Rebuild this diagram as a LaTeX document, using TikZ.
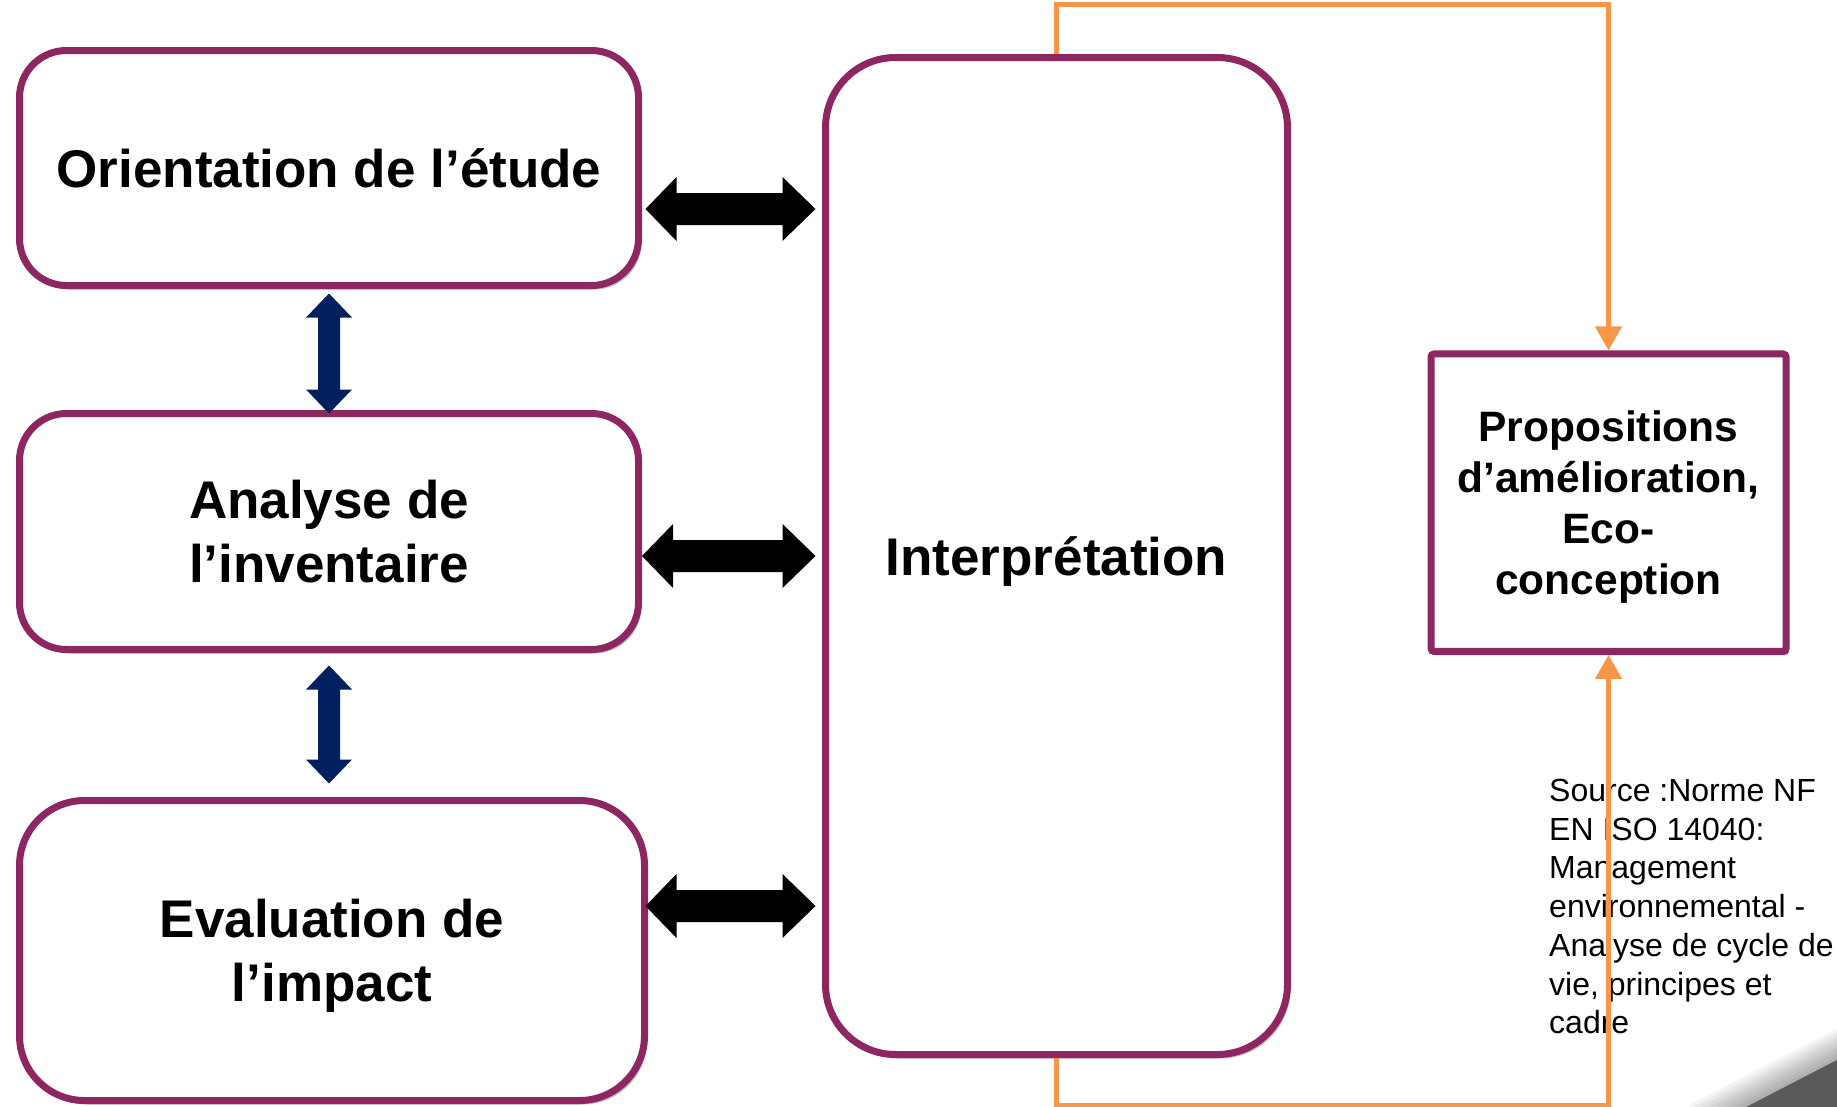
\documentclass[tikz,border=0pt]{standalone}
\usepackage{fontspec}
\setmainfont{Liberation Sans}
\usetikzlibrary{arrows.meta,calc,shadows}
\definecolor{boxpurple}{RGB}{142,38,98}
\definecolor{linkorange}{RGB}{247,150,70}
\definecolor{navyarrow}{RGB}{0,32,96}
\definecolor{cornergray}{RGB}{90,90,90}
\newcommand\hdblarrow[2]{%
  \fill[black] (#1) -- ++(31,-32) -- ++(0,16) -- ($(#2)+(-33,-16)$) -- ++(0,-16) -- (#2)
    -- ++(-33,32) -- ++(0,-16) -- ($(#1)+(31,16)$) -- ++(0,16) -- cycle;}
\newcommand\vdblarrow[2]{%
  \fill[navyarrow] (#1) -- ++(23,24) -- ++(-12,0) -- ($(#2)+(11,-24)$) -- ++(12,0) -- (#2)
    -- ++(-23,-24) -- ++(12,0) -- ($(#1)+(-11,24)$) -- ++(-12,0) -- cycle;}
\begin{document}
\begin{tikzpicture}[x=1pt,y=-1pt,
  stagebox/.style={draw=boxpurple, line width=7pt, fill=white, rounded corners=#1,
    inner sep=0pt, align=center, font=\bfseries\fontsize{53}{64}\selectfont,
    drop shadow={shadow xshift=3pt, shadow yshift=-4pt, opacity=0.25, fill=black}},
  orangelink/.style={draw=linkorange, line width=4.5pt, -{Triangle[width=26pt,length=24pt]}},
  sourcetext/.style={anchor=north west, inner sep=0pt, align=left,
    font=\fontsize{32}{38.7}\selectfont}
]
\useasboundingbox (0,0) rectangle (1837,1106);
\fill[white] (0,0) rectangle (1837,1106);
\begin{scope}
  \clip (0,0) rectangle (1837,1106);
  \foreach \k in {8,7,...,1}
    \fill[black, opacity=0.045]
      ($(1703.5,1129)+(-0.46*\k*3.5,-0.89*\k*3.5)$) -- ($(1881.5,1037)+(-0.46*\k*3.5,-0.89*\k*3.5)$)
      -- (1900,1200) -- (1650,1200) -- cycle;
  \fill[cornergray] (1703.5,1129) -- (1881.5,1037) -- (1900,1200) -- (1650,1200) -- cycle;
\end{scope}

\node[stagebox=47pt, minimum width=619pt, minimum height=235pt] (orient) at (329,168)
  {Orientation de l’étude};
\node[stagebox=47pt, minimum width=619pt, minimum height=236pt] (analyse) at (329,531.5)
  {Analyse de\\l’inventaire};
\node[stagebox=65pt, minimum width=625pt, minimum height=300pt, text depth=0pt] (evalimp) at (332,950.5)
  {Evaluation de\\l’impact};
\node[stagebox=70pt, minimum width=462pt, minimum height=997pt, text depth=0pt] (interp) at (1056.5,556)
  {Interprétation};
\node[stagebox=3pt, minimum width=355pt, minimum height=297.5pt, text depth=0pt,
  font=\bfseries\fontsize{42.5}{51}\selectfont] (props) at (1608.5,502.7)
  {Propositions\\d’amélioration,\\Eco-\\conception};

\node[sourcetext] (src) at (1549,779)
  {Source :Norme NF\\EN ISO 14040:\\Management\\environnemental -\\Analyse de cycle de\\vie, principes et\\cadre};

% horizontal double arrows
\coordinate (h1a) at ($(orient.east)+(3.5,41)$);
\coordinate (h1b) at ($(interp.west |- h1a)+(-6.5,0)$);
\coordinate (h2a) at ($(analyse.east)+(0,24.5)$);
\coordinate (h2b) at ($(interp.west |- h2a)+(-6.5,0)$);
\coordinate (h3a) at ($(evalimp.east)+(-2.5,-44.5)$);
\coordinate (h3b) at ($(interp.west |- h3a)+(-6.5,0)$);
\hdblarrow{h1a}{h1b}
\hdblarrow{h2a}{h2b}
\hdblarrow{h3a}{h3b}

% vertical double arrows
\coordinate (v1a) at ($(orient.south)+(0,4.5)$);
\coordinate (v1b) at ($(analyse.north)+(0,3.5)$);
\coordinate (v2a) at ($(analyse.south)+(0,12.5)$);
\coordinate (v2b) at ($(analyse.south |- evalimp.north)+(0,-13.5)$);
\vdblarrow{v1a}{v1b}
\vdblarrow{v2a}{v2b}

% orange feedback links
\draw[orangelink] (interp.north) -- ++(0,-49.5) -| (props.north);
\draw[orangelink] (interp.south) -- ++(0,47.5) -| (props.south);
\end{tikzpicture}
\end{document}
